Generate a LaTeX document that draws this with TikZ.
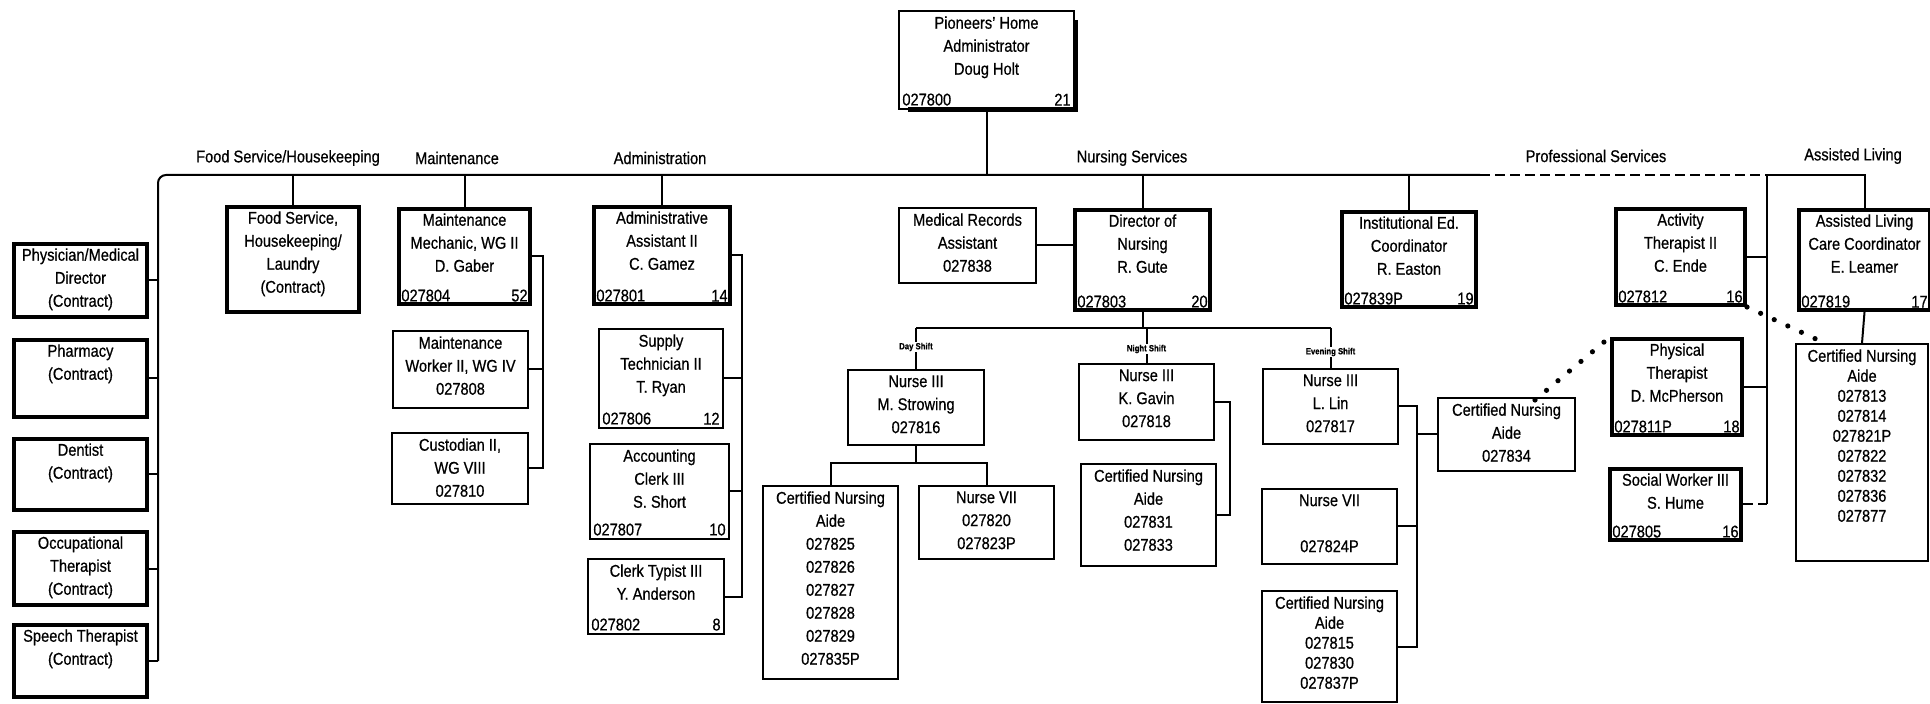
\documentclass[tikz,border=0pt]{standalone}
\usepackage{fontspec}
\setmainfont{Liberation Sans}[FakeStretch=0.86, FakeBold=0.6]
\tikzset{
  thinbox/.style={draw, line width=1pt, fill=white},
  heavy/.style={draw, line width=2pt, fill=white},
  conn/.style={line width=1pt},
  dashconn/.style={line width=1pt, dash pattern=on 5pt off 2.5pt},
  txt/.style={font=\fontsize{8.5}{11.5}\selectfont, align=center, inner xsep=1pt, inner ysep=3pt},
  tighttxt/.style={font=\fontsize{8.5}{10}\selectfont, align=center, inner xsep=1pt, inner ysep=3pt},
  code/.style={font=\fontsize{8.5}{11.5}\selectfont, inner sep=2pt},
  grp/.style={font=\fontsize{8.5}{10}\selectfont},
  shiftlbl/.style={font=\bfseries\fontsize{4.5}{5}\selectfont, fill=white, inner sep=0.6pt},
  dots/.style={line width=2.6pt, line cap=round, dash pattern=on 0pt off 7.5pt}
}
\newcommand{\orgbox}[8][txt]{%
  \node[#7, minimum width={(#5-#3)*0.5pt}, minimum height={(#6-#4)*0.5pt}, anchor=north west, inner sep=0pt] (#2) at (#3,#4) {};
  \node[#1, anchor=north] (#2t) at (#2.north) {#8};}
\newcommand{\orgcode}[3]{%
  \node[code, anchor=south west] (#1l) at (#1.south west) {#2};
  \node[code, anchor=south east] (#1r) at (#1.south east) {#3};}
\begin{document}
\begin{tikzpicture}[x=0.5pt,y=-0.5pt]
\useasboundingbox[fill=white] (0,0) rectangle (1930,704);

% ---- boxes ----
\orgbox{top}{898}{10}{1073}{108}{thinbox}{Pioneers' Home\\Administrator\\Doug Holt}
\orgcode{top}{027800}{21}
\draw[line width=2.5pt] ([yshift=-5pt]top.north east) -- (top.south east) -- ([xshift=5pt]top.south west);

\orgbox{phys}{12}{242}{145}{315}{heavy}{Physician/Medical\\Director\\(Contract)}
\orgbox{pharm}{12}{338}{145}{415}{heavy}{Pharmacy\\(Contract)}
\orgbox{dent}{12}{437}{145}{508}{heavy}{Dentist\\(Contract)}
\orgbox{ot}{12}{530}{145}{603}{heavy}{Occupational\\Therapist\\(Contract)}
\orgbox{speech}{12}{623}{145}{695}{heavy}{Speech Therapist\\(Contract)}

\orgbox{food}{225}{205}{357}{310}{heavy}{Food Service,\\Housekeeping/\\Laundry\\(Contract)}

\orgbox{mech}{397}{207}{528}{302}{heavy}{Maintenance\\Mechanic, WG II\\D. Gaber}
\orgcode{mech}{027804}{52}
\orgbox{work}{392}{330}{527}{407}{thinbox}{Maintenance\\Worker II, WG IV\\027808}
\orgbox{cust}{391}{432}{527}{503}{thinbox}{Custodian II,\\WG VIII\\027810}

\orgbox{adm}{592}{205}{728}{302}{heavy}{Administrative\\Assistant II\\C. Gamez}
\orgcode{adm}{027801}{14}
\orgbox{sup}{598}{328}{722}{427}{thinbox}{Supply\\Technician II\\T. Ryan}
\orgcode{sup}{027806}{12}
\orgbox{acc}{589}{443}{728}{538}{thinbox}{Accounting\\Clerk III\\S. Short}
\orgcode{acc}{027807}{10}
\orgbox{clerk}{587}{558}{723}{633}{thinbox}{Clerk Typist III\\Y. Anderson}
\orgcode{clerk}{027802}{8}

\orgbox{med}{898}{207}{1035}{282}{thinbox}{Medical Records\\Assistant\\027838}
\orgbox{dir}{1073}{208}{1208}{308}{heavy}{Director of\\Nursing\\R. Gute}
\orgcode{dir}{027803}{20}

\orgbox{strow}{847}{369}{983}{444}{thinbox}{Nurse III\\M. Strowing\\027816}
\orgbox{gav}{1078}{363}{1213}{439}{thinbox}{Nurse III\\K. Gavin\\027818}
\orgbox{lin}{1262}{368}{1397}{443}{thinbox}{Nurse III\\L. Lin\\027817}

\orgbox{cnad}{762}{485}{897}{678}{thinbox}{Certified Nursing\\Aide\\027825\\027826\\027827\\027828\\027829\\027835P}
\orgbox{nvd}{918}{485}{1053}{558}{thinbox}{Nurse VII\\027820\\027823P}
\orgbox{cnan}{1080}{463}{1215}{565}{thinbox}{Certified Nursing\\Aide\\027831\\027833}
\orgbox{cfour}{1437}{397}{1574}{470}{thinbox}{Certified Nursing\\Aide\\027834}
\orgbox{nve}{1261}{488}{1396}{563}{thinbox}{Nurse VII\\~\\027824P}
\orgbox[tighttxt]{cnae}{1261}{590}{1396}{701}{thinbox}{Certified Nursing\\Aide\\027815\\027830\\027837P}

\orgbox{inst}{1340}{210}{1474}{305}{heavy}{Institutional Ed.\\Coordinator\\R. Easton}
\orgcode{inst}{027839P}{19}
\orgbox{act}{1614}{207}{1743}{303}{heavy}{Activity\\Therapist II\\C. Ende}
\orgcode{act}{027812}{16}
\orgbox{phy}{1610}{337}{1740}{433}{heavy}{Physical\\Therapist\\D. McPherson}
\orgcode{phy}{027811P}{18}
\orgbox{soc}{1608}{467}{1739}{538}{heavy}{Social Worker III\\S. Hume}
\orgcode{soc}{027805}{16}
\orgbox{al}{1797}{208}{1928}{308}{heavy}{Assisted Living\\Care Coordinator\\E. Leamer}
\orgcode{al}{027819}{17}
\orgbox[tighttxt]{cnaal}{1795}{343}{1927}{560}{thinbox}{Certified Nursing\\Aide\\027813\\027814\\027821P\\027822\\027832\\027836\\027877}

% ---- group labels ----
\node[grp] (gfood) at (288,158) {Food Service/Housekeeping};
\node[grp] (gmaint) at (457,158) {Maintenance};
\node[grp] (gadm) at (660,158) {Administration};
\node[grp] (gnurs) at (1132,158) {Nursing Services};
\node[grp] (gprof) at (1596,156) {Professional Services};
\node[grp] (gal) at (1853,156) {Assisted Living};

% ---- main line ----
\coordinate (mL) at (158,175);
\coordinate (jD) at (1480,175);
\coordinate (jPS) at (1767,175);
\coordinate (jAL) at (al.north |- mL);
\draw[conn] (top.south) -- (top.south |- mL);
\draw[conn, rounded corners=4pt] (speech.east -| mL) -- (mL) -- (jD);
\draw[dashconn] (jD) -- (jPS);
\draw[conn] (jPS) -- (jAL) -- (al.north);

% left contracts
\draw[conn] (phys.east) -- (phys.east -| mL);
\draw[conn] (pharm.east) -- (pharm.east -| mL);
\draw[dashconn] (dent.east) -- (dent.east -| mL);
\draw[conn] (ot.east) -- (ot.east -| mL);
\draw[conn] (speech.east) -- (speech.east -| mL);

% group drops
\draw[conn] (food.north) -- (food.north |- mL);
\draw[conn] (mech.north) -- (mech.north |- mL);
\draw[conn] (adm.north) -- (adm.north |- mL);
\draw[conn] (dir.north) -- (dir.north |- mL);
\draw[conn] (inst.north) -- (inst.north |- mL);

% maintenance bracket
\coordinate (mbx) at (543,0);
\draw[conn] (mech.east) -- (mech.east -| mbx) -- (cust.east -| mbx) -- (cust.east);
\draw[conn] (work.east) -- (work.east -| mbx);

% administration bracket
\coordinate (abx) at (742,0);
\draw[conn] (adm.east) -- (adm.east -| abx) -- (clerk.east -| abx) -- (clerk.east);
\draw[conn] (sup.east) -- (sup.east -| abx);
\draw[conn] (acc.east) -- (acc.east -| abx);

% nursing
\draw[conn] (med.east) -- (med.east -| dir.west);
\coordinate (sh) at (0,328);
\draw[conn] (dir.south) -- (dir.south |- sh);
\draw[conn] (strow.north |- sh) -- (lin.north |- sh);
\draw[conn] (strow.north) -- (strow.north |- sh);
\draw[conn] (gav.north) -- (gav.north |- sh);
\draw[conn] (lin.north) -- (lin.north |- sh);
\node[shiftlbl] (sday) at ([yshift=11pt]strow.north) {Day Shift};
\node[shiftlbl] (snight) at ([yshift=7pt]gav.north) {Night Shift};
\node[shiftlbl] (seve) at ([yshift=8pt]lin.north) {Evening Shift};

\coordinate (sj) at (0,463);
\draw[conn] (strow.south) -- (strow.south |- sj);
\draw[conn] (cnad.north) -- (cnad.north |- sj) -- (nvd.north |- sj) -- (nvd.north);

\coordinate (gbx) at (1230,0);
\draw[conn] (gav.east) -- (gav.east -| gbx) -- (cnan.east -| gbx) -- (cnan.east);

\coordinate (lbx) at (1417,0);
\draw[conn] (lin.east) -- (lin.east -| lbx) -- (cnae.east -| lbx) -- (cnae.east);
\draw[conn] (nve.east) -- (nve.east -| lbx);
\draw[conn] (cfour.west -| lbx) -- (cfour.west);

% professional services
\draw[conn] (jPS) -- (soc.east -| jPS);
\draw[conn] (act.east) -- (act.east -| jPS);
\draw[conn] (phy.east) -- (phy.east -| jPS);
\draw[dashconn] (soc.east) -- (soc.east -| jPS);

% assisted living
\draw[conn] (al.south) -- (cnaal.north);

% dotted links
\coordinate (d1) at (1535,400);
\coordinate (d2) at (1818,340);
\draw[dots] (d1) -- (phy.north west);
\draw[dots] (act.south east) -- (d2);
\end{tikzpicture}
\end{document}
